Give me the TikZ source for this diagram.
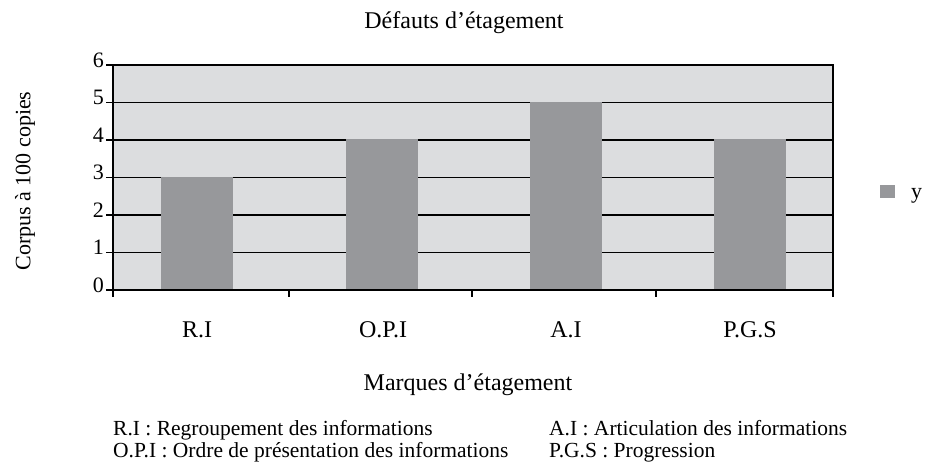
\documentclass[tikz,border=0pt]{standalone}
\usepackage{fontspec}
\setmainfont{Liberation Serif}
\definecolor{plotbg}{HTML}{DCDDDF}
\definecolor{barfill}{HTML}{97989B}
\begin{document}
\begin{tikzpicture}[x=1pt,y=-1pt,
  txt/.style={inner sep=0pt,font=\fontsize{22}{26}\selectfont},
  cat/.style={inner sep=0pt,font=\fontsize{24}{28}\selectfont},
  note/.style={inner sep=0pt,font=\fontsize{21.5}{25}\selectfont},
  grid/.style={line width=1.8pt,black},
  axis/.style={line width=1.8pt,black},
  bar/.style={fill=barfill,draw=none}]
\useasboundingbox (0,0) rectangle (925,464);
% plot area
\fill[plotbg] (113,65) rectangle (833,290);
% gridlines
\foreach \k in {1,...,5}{
  \pgfmathsetmacro\yy{290-37.5*\k}
  \draw[grid] (113,\yy) -- (833,\yy);
}
% bars over grid lines
\foreach \c/\v in {197/3,382/4,566/5,750/4}{
  \fill[barfill] (\c-36,290) rectangle (\c+36,290-37.5*\v-0.9);
}
% frame
\draw[axis] (113,65) -- (833,65) -- (833,297);
\draw[axis] (113,65) -- (113,297);
\draw[axis] (107,290) -- (833,290);
% y ticks and labels
\foreach \k in {0,...,6}{
  \pgfmathsetmacro\yy{290-37.5*\k}
  \draw[axis] (106,\yy) -- (113,\yy);
  \node[txt,anchor=base east] (yl\k) at (104,\yy+2) {\k};
}
% x ticks
\foreach \xx in {289,472,656}{
  \draw[axis] (\xx,290) -- (\xx,297);
}
% category labels
\node[cat,anchor=base] (c1) at (197,337) {R.I};
\node[cat,anchor=base] (c2) at (383,337) {O.P.I};
\node[cat,anchor=base] (c3) at (566,337) {A.I};
\node[cat,anchor=base] (c4) at (750,337) {P.G.S};
% titles
\node[cat,anchor=base] (title) at (464,28) {Défauts d’étagement};
\node[txt,rotate=90] (ylab) at (25,181) {Corpus à 100 copies};
\node[cat,anchor=base] (xlab) at (468,390) {Marques d’étagement};
% legend
\fill[barfill] (880,185) rectangle (895,198);
\node[txt,anchor=base west] (leg) at (911,198) {y};
% notes
\node[note,anchor=base west] (n1) at (113,435) {R.I : Regroupement des informations};
\node[note,anchor=base west] (n2) at (113,457) {O.P.I : Ordre de présentation des informations};
\node[note,anchor=base west] (n3) at (549,435) {A.I : Articulation des informations};
\node[note,anchor=base west] (n4) at (549,457) {P.G.S : Progression};
\end{tikzpicture}
\end{document}
